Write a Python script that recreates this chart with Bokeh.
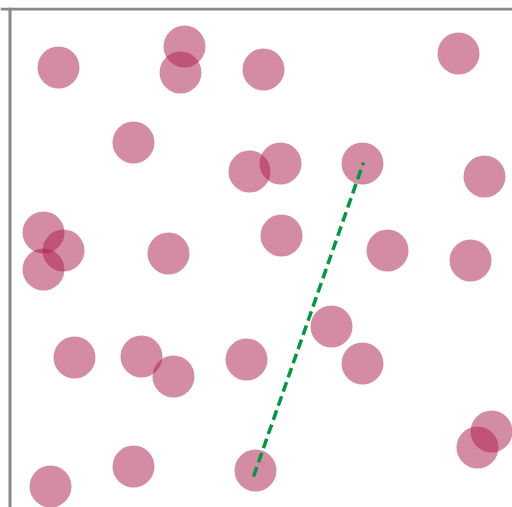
from bokeh.plotting import figure
from bokeh.models import Range1d, Span
from bokeh.embed import file_html
from bokeh.resources import INLINE

xs = [9.6, 34.8, 34.0, 50.6, 89.6, 24.6, 47.8, 54.0, 70.4, 94.8,
      6.6, 10.6, 6.6, 31.6, 54.2, 75.4, 92.0, 64.2, 12.8, 26.2,
      32.6, 47.2, 70.4, 96.2, 93.4, 24.6, 8.0, 49.0]
ys = [88.0, 92.2, 87.0, 87.6, 90.8, 73.0, 67.2, 68.8, 68.8, 66.2,
      55.0, 51.4, 47.6, 50.8, 54.4, 51.4, 49.4, 36.2, 30.0, 30.2,
      26.2, 29.6, 28.8, 15.2, 12.0, 8.2, 4.2, 7.4]
line_x = [48.6, 70.6]
line_y = [6.2, 69.0]

p = figure(width=512, height=507, output_backend="svg", toolbar_location=None,
           x_range=Range1d(-2.0, 100.4), y_range=Range1d(0, 100.0),
           x_axis_location=None, y_axis_location=None, min_border=0,
           min_border_top=7)
p.grid.visible = False
p.outline_line_color = None

p.scatter(xs, ys, size=42, fill_color="#A9194B", fill_alpha=0.5, line_color=None)
p.line(line_x, line_y, line_color="#009940", line_width=3.5, line_dash="10 5")

p.add_layout(Span(location=-0.1, dimension="height", line_color="#888888", line_width=3))
p.add_layout(Span(location=99.7, dimension="width", line_color="#888888", line_width=3))

open("out.html", "w").write(file_html(p, INLINE))
